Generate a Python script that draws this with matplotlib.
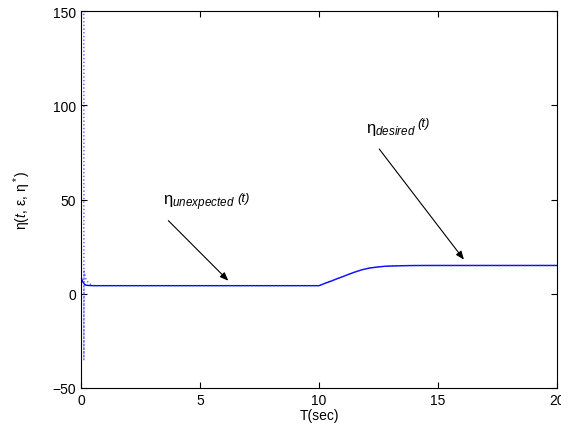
import numpy as np
import matplotlib
matplotlib.use("Agg")
import matplotlib.pyplot as plt

plt.rcParams['font.family'] = ['Liberation Sans', 'DejaVu Sans']
plt.rcParams['mathtext.fontset'] = 'custom'
plt.rcParams['mathtext.rm'] = 'Liberation Sans'
plt.rcParams['mathtext.it'] = 'Liberation Sans:italic'
plt.rcParams['mathtext.bf'] = 'Liberation Sans:bold'

# eta_unexpected (solid)
t_solid = [0.0, 0.05, 0.1, 0.15, 0.2, 0.3, 0.5, 10.0, 10.5, 11.0, 11.5, 11.8,
           12.1, 12.4, 12.7, 13.0, 13.4, 13.8, 14.5, 20.0]
eta_solid = [9.0, 7.0, 5.8, 5.0, 4.6, 4.4, 4.3, 4.3, 6.7, 9.1, 11.5, 12.7,
             13.6, 14.1, 14.5, 14.7, 14.85, 14.95, 15.0, 15.0]

# eta_desired (dotted) with the spike at the start
t_dot = [0.12, 0.12, 0.13, 0.2, 0.3, 0.4, 0.5, 10.0, 10.5, 11.0, 11.5, 11.8,
         12.1, 12.4, 12.7, 13.0, 13.4, 13.8, 14.5, 20.0]
eta_dot = [160.0, -35.0, 12.0, 8.0, 6.0, 5.0, 4.3, 4.3, 6.7, 9.1, 11.5, 12.7,
           13.6, 14.1, 14.5, 14.7, 14.85, 14.95, 15.0, 15.0]

fig = plt.figure(figsize=(5.61, 4.27), dpi=100)
ax = fig.add_axes([81 / 561, 1 - 389 / 427, 476 / 561, 377 / 427])

ax.plot(t_solid, eta_solid, '-', color='#0000ff', lw=1.0)
ax.plot(t_dot, eta_dot, ':', color='#3333ff', lw=1.0, alpha=0.8)

ax.annotate('', xy=(6.19, 6.9), xytext=(3.67, 38.8),
            arrowprops=dict(arrowstyle='-|>,head_length=0.5,head_width=0.2',
                            color='black', lw=0.8,
                            mutation_scale=10, shrinkA=0, shrinkB=0))
ax.annotate('', xy=(16.09, 18.1), xytext=(12.53, 76.8),
            arrowprops=dict(arrowstyle='-|>,head_length=0.5,head_width=0.2',
                            color='black', lw=0.8,
                            mutation_scale=10, shrinkA=0, shrinkB=0))

t1 = ax.text(3.45, 47.6, r'$\mathrm{\eta}_{unexpected}$', fontsize=12)
t2 = ax.text(11.97, 86.0, r'$\mathrm{\eta}_{desired}$', fontsize=12)
for t in (t1, t2):
    ax.annotate('(t)', xy=(1, 0), xycoords=t, xytext=(1.5, 5.5),
                textcoords='offset points', fontsize=9.5, style='italic',
                va='bottom', ha='left')

ax.set_xlim(0, 20)
ax.set_ylim(-50, 150)
ax.set_xticks([0, 5, 10, 15, 20])
ax.set_yticks([-50, 0, 50, 100, 150])
ax.tick_params(direction='in', top=True, right=True, labelsize=10, length=4)
for s in ax.spines.values():
    s.set_linewidth(0.8)

ax.set_xlabel('T(sec)', fontsize=10, labelpad=1)
ax.set_ylabel(r'$\mathrm{\eta}(t,\,\mathrm{\epsilon},\,\mathrm{\eta}^*)$', fontsize=10,
              labelpad=14)

fig.savefig('out.png', dpi=100)
